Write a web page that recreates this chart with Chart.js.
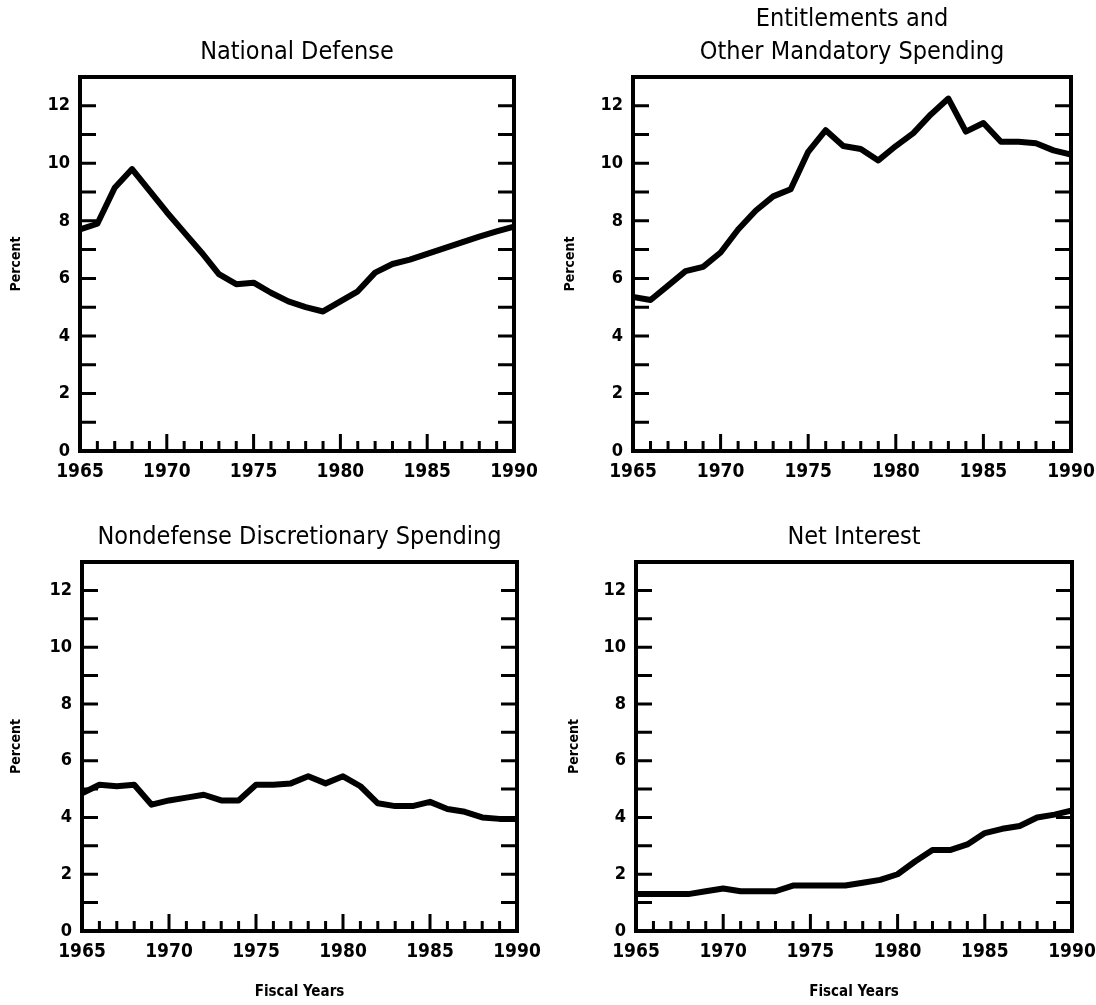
<!DOCTYPE html>
<html>
<head>
<meta charset="utf-8">
<title>Outlays as a Percentage of GDP, 1965-1990</title>
<script src="https://cdn.jsdelivr.net/npm/chart.js@4.4.1/dist/chart.umd.min.js"></script>
<style>
  html, body { margin: 0; padding: 0; background: #fff; }
  #wrap { position: relative; width: 1096px; height: 1005px; }
  #wrap canvas { position: absolute; }
</style>
</head>
<body>
<div id="wrap">
  <canvas id="c1" width="548" height="500" style="left:0;top:0"></canvas>
  <canvas id="c2" width="548" height="500" style="left:548px;top:0"></canvas>
  <canvas id="c3" width="548" height="505" style="left:0;top:500px"></canvas>
  <canvas id="c4" width="548" height="505" style="left:548px;top:500px"></canvas>
</div>
<script>
// fiscal years on the x axis
var years = [1965, 1966, 1967, 1968, 1969, 1970, 1971, 1972, 1973, 1974, 1975, 1976, 1977,
             1978, 1979, 1980, 1981, 1982, 1983, 1984, 1985, 1986, 1987, 1988, 1989, 1990];

// percent of GDP, one value per year
var nationalDefense = [7.7, 7.9, 9.15, 9.8, 9.05, 8.3, 7.6, 6.9, 6.15, 5.8, 5.85, 5.5, 5.2,
                       5.0, 4.85, 5.2, 5.55, 6.2, 6.5, 6.65, 6.85, 7.05, 7.25, 7.45, 7.63, 7.8];
var entitlements = [5.35, 5.25, 5.75, 6.25, 6.4, 6.9, 7.7, 8.35, 8.85, 9.1, 10.4, 11.15, 10.6,
                    10.5, 10.1, 10.6, 11.05, 11.7, 12.25, 11.1, 11.4, 10.75, 10.75, 10.7, 10.45, 10.3];
var nondefense = [4.85, 5.15, 5.1, 5.15, 4.45, 4.6, 4.7, 4.8, 4.6, 4.6, 5.15, 5.15, 5.2,
                  5.45, 5.2, 5.45, 5.1, 4.5, 4.4, 4.4, 4.55, 4.3, 4.2, 4.0, 3.95, 3.95];
var netInterest = [1.3, 1.3, 1.3, 1.3, 1.4, 1.5, 1.4, 1.4, 1.4, 1.6, 1.6, 1.6, 1.6,
                   1.7, 1.8, 2.0, 2.45, 2.85, 2.85, 3.05, 3.45, 3.6, 3.7, 4.0, 4.1, 4.25];

var xTickLabels = [1965, 1970, 1975, 1980, 1985, 1990];
var yTickLabels = [0, 2, 4, 6, 8, 10, 12];
var yMax = 13;

Chart.defaults.font.family = '"DejaVu Sans Condensed", "Liberation Sans", sans-serif';
Chart.defaults.color = '#000';

// frame plus the little inward ticks (every year / every percent)
const marcas = {
  id: 'marcas',
  afterDraw(chart) {
    const ctx = chart.ctx;
    const a = chart.chartArea;
    const x = chart.scales.x;
    const y = chart.scales.y;
    ctx.save();
    ctx.strokeStyle = '#000';
    ctx.lineWidth = 3;
    ctx.beginPath();
    for (let v = 1; v < yMax; v++) {
      const py = y.getPixelForValue(v);
      ctx.moveTo(a.left, py);
      ctx.lineTo(a.left + 16, py);
      ctx.moveTo(a.right - 16, py);
      ctx.lineTo(a.right, py);
    }
    for (let yr = years[0] + 1; yr < years[years.length - 1]; yr++) {
      const px = x.getPixelForValue(yr);
      const len = yr % 5 === 0 ? 17 : 10;
      ctx.moveTo(px, a.bottom);
      ctx.lineTo(px, a.bottom - len);
    }
    ctx.stroke();
    ctx.lineWidth = 4;
    ctx.strokeRect(a.left, a.top, a.width, a.height);
    ctx.restore();
  }
};

function crearGrafica(id, titulo, valores, lay) {
  const canvas = document.getElementById(id);
  return new Chart(canvas, {
    type: 'line',
    data: {
      datasets: [{
        data: years.map((yr, i) => ({ x: yr, y: valores[i] })),
        borderColor: '#000',
        borderWidth: 6,
        borderJoinStyle: 'round',
        pointRadius: 0,
        tension: 0,
        fill: false
      }]
    },
    options: {
      responsive: false,
      animation: false,
      events: [],
      layout: { padding: { left: 0, top: 0, right: lay.right, bottom: 0 } },
      plugins: {
        legend: { display: false },
        tooltip: { enabled: false },
        title: {
          display: true,
          text: titulo,
          fullSize: false,
          color: '#000',
          font: { size: 25, weight: 'normal', lineHeight: 1.3 },
          padding: { top: lay.titleTop, bottom: 8.5 }
        }
      },
      scales: {
        x: {
          type: 'linear',
          min: years[0],
          max: years[years.length - 1],
          grid: { display: false, drawTicks: false },
          border: { display: false },
          afterBuildTicks: (s) => { s.ticks = xTickLabels.map(v => ({ value: v })); },
          afterFit: (s) => {
            s.height = lay.xHeight;
            // the end labels may hang past the frame, there is room for them
            s.paddingLeft = 0;
            s.paddingRight = 0;
          },
          ticks: {
            autoSkip: false,
            maxRotation: 0,
            padding: 10,
            color: '#000',
            font: { size: 19, weight: 'bold' },
            callback: (v) => String(v)
          },
          title: {
            display: lay.fiscal,
            text: 'Fiscal Years',
            color: '#000',
            font: { size: 15, weight: 'bold', lineHeight: 1.2 },
            padding: { top: 0, bottom: 4 }
          }
        },
        y: {
          min: 0,
          max: yMax,
          grid: { display: false, drawTicks: false },
          border: { display: false },
          afterBuildTicks: (s) => { s.ticks = yTickLabels.map(v => ({ value: v })); },
          afterFit: (s) => { s.width = lay.yWidth; },
          ticks: {
            padding: 10,
            color: '#000',
            font: { size: 18, weight: 'bold' }
          },
          title: {
            display: true,
            text: 'Percent',
            color: '#000',
            font: { size: 14, weight: 'bold', lineHeight: 1.2 },
            padding: { top: lay.percentPad, bottom: 0 }
          }
        }
      }
    },
    plugins: [marcas]
  });
}

crearGrafica('c1', 'National Defense', nationalDefense,
  { yWidth: 80, right: 34, titleTop: 36, xHeight: 49, fiscal: false, percentPad: 8 });
crearGrafica('c2', ['Entitlements and', 'Other Mandatory Spending'], entitlements,
  { yWidth: 85, right: 25, titleTop: 3.5, xHeight: 49, fiscal: false, percentPad: 14 });
crearGrafica('c3', 'Nondefense Discretionary Spending', nondefense,
  { yWidth: 82, right: 31, titleTop: 21, xHeight: 74, fiscal: true, percentPad: 8 });
crearGrafica('c4', 'Net Interest', netInterest,
  { yWidth: 88, right: 24, titleTop: 21, xHeight: 74, fiscal: true, percentPad: 18 });
</script>
</body>
</html>
